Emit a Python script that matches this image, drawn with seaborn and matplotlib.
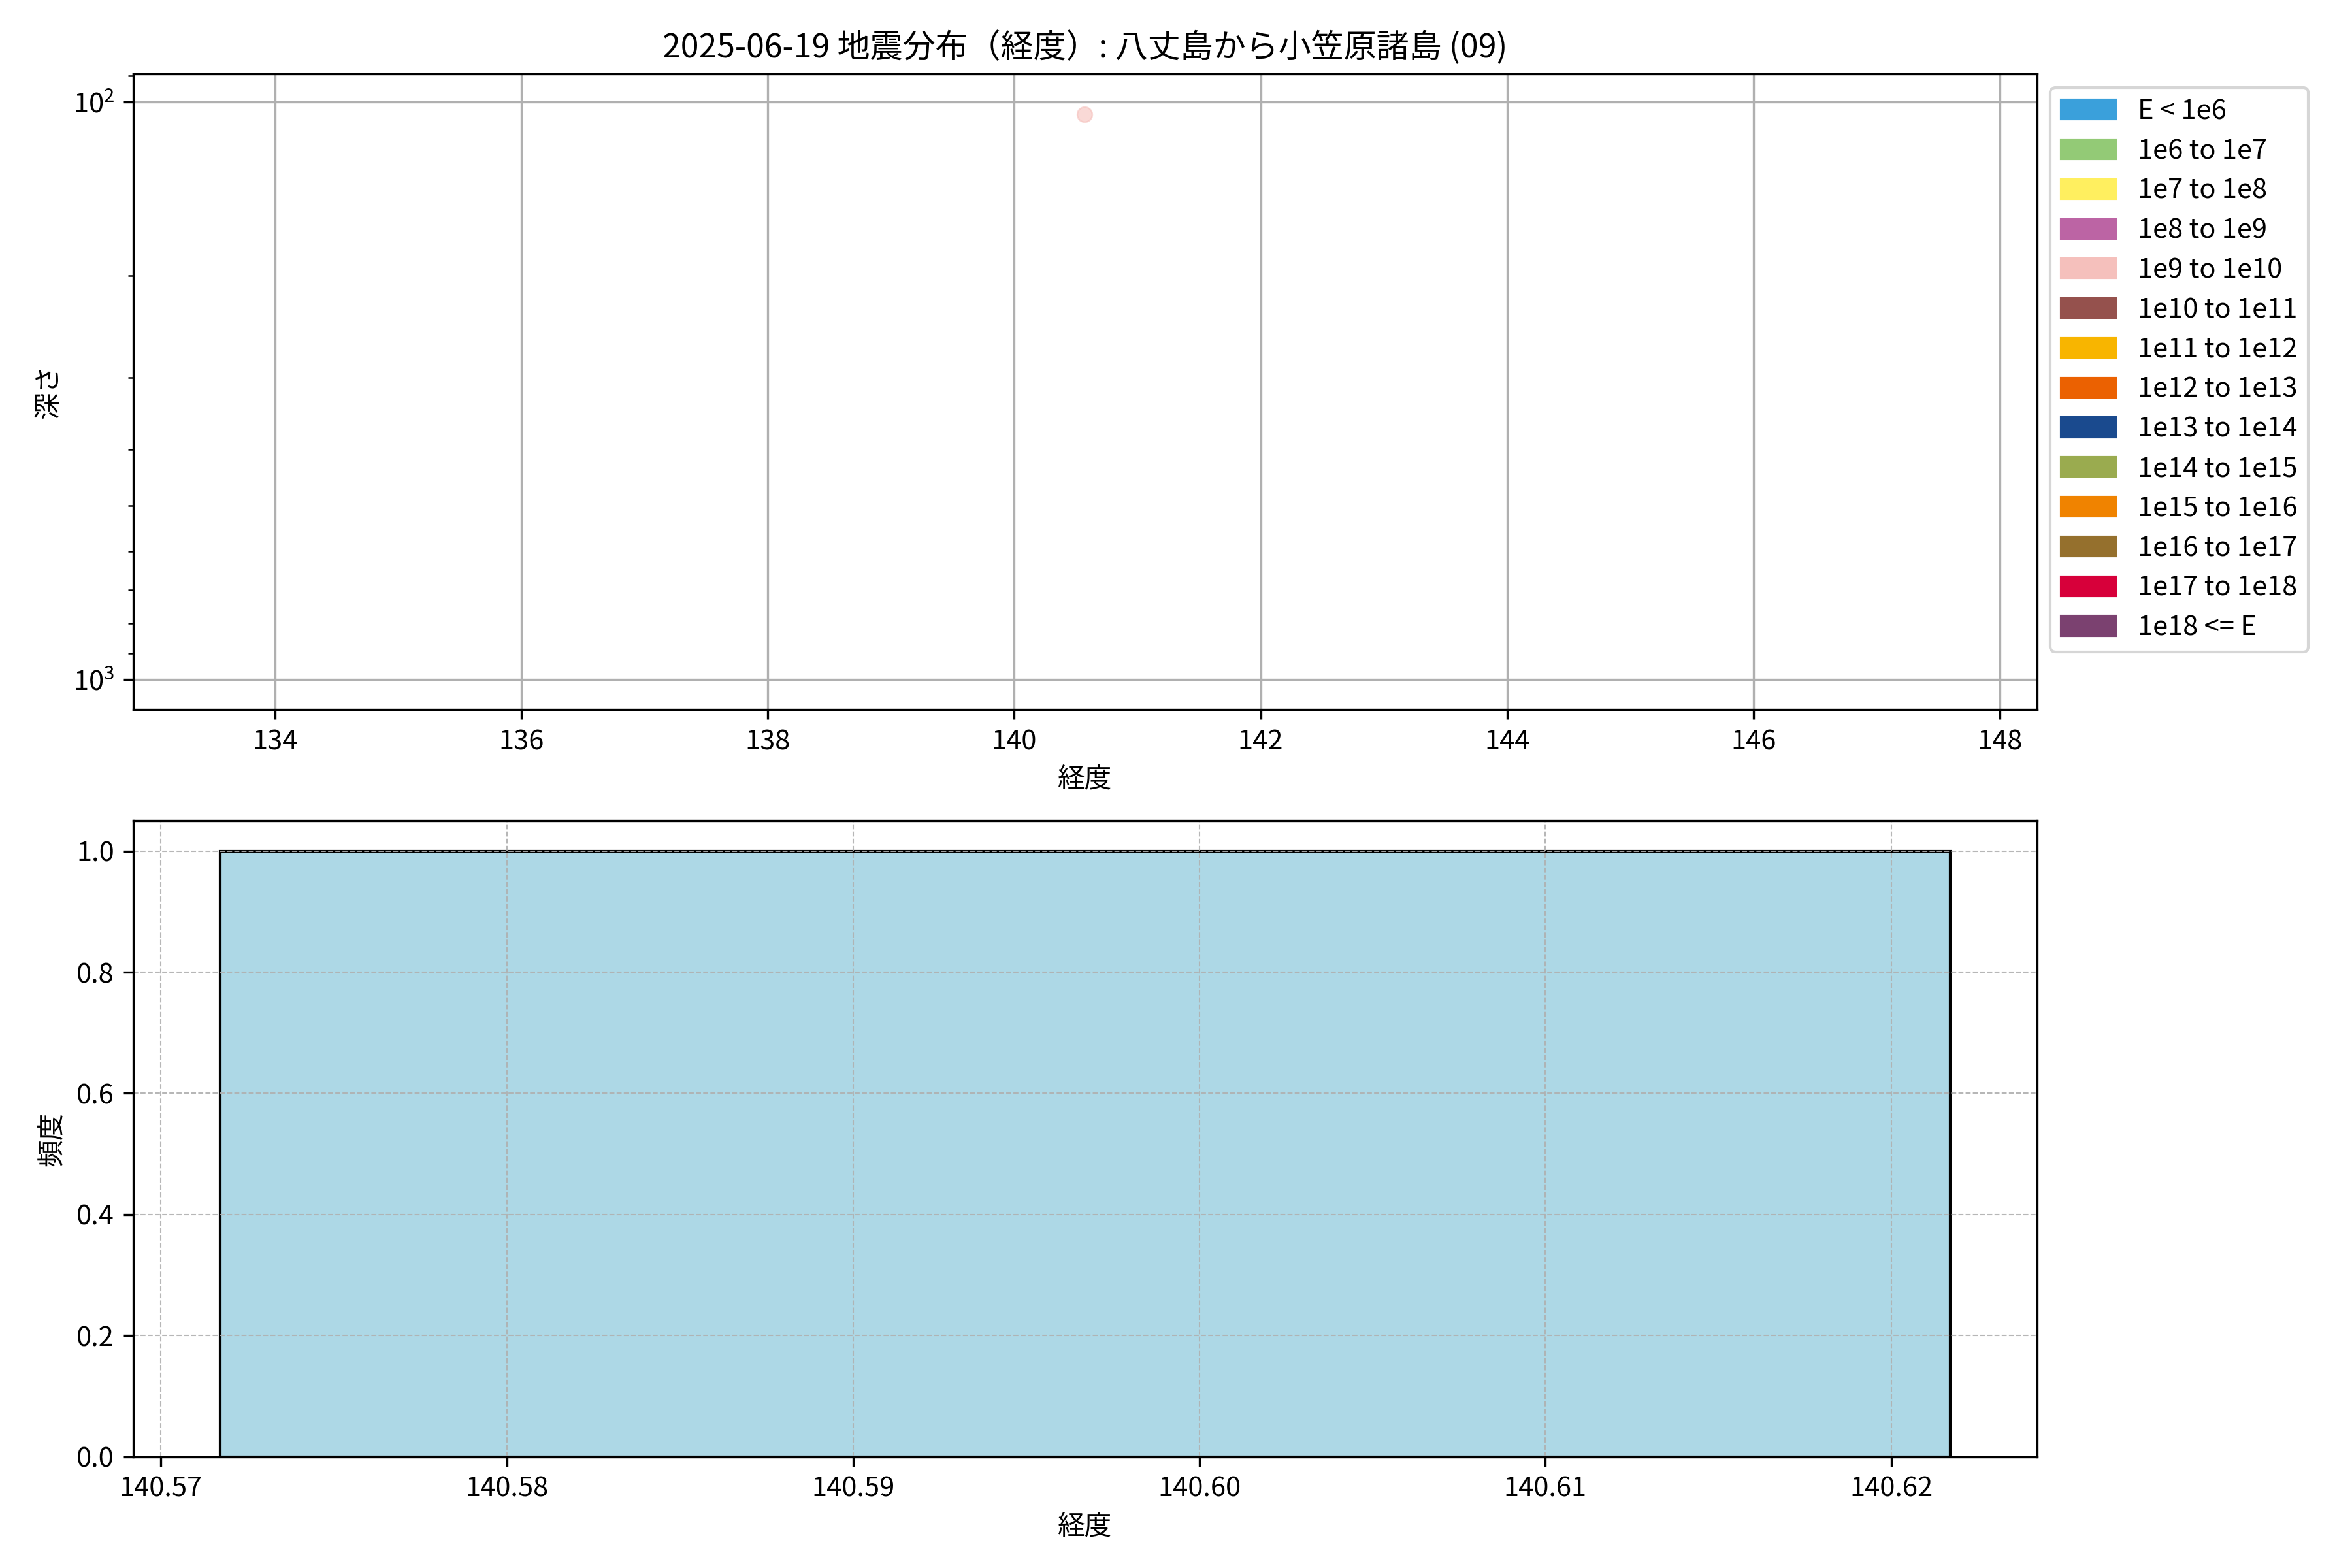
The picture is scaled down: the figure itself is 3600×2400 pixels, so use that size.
import matplotlib
matplotlib.use("Agg")
import matplotlib.pyplot as plt
import matplotlib.patches as mpatches
import seaborn as sns
import pandas as pd

plt.rcParams['font.family'] = ['Noto Sans CJK JP', 'DejaVu Sans']

# ---- data ----
title = "2025-06-19 地震分布（経度）: 八丈島から小笠原諸島 (09)"
longitudes = [140.5717]
depths = [105.0]
energy_class = ["1e9 to 1e10"]

energy_labels = ["E < 1e6", "1e6 to 1e7", "1e7 to 1e8", "1e8 to 1e9", "1e9 to 1e10",
                 "1e10 to 1e11", "1e11 to 1e12", "1e12 to 1e13", "1e13 to 1e14",
                 "1e14 to 1e15", "1e15 to 1e16", "1e16 to 1e17", "1e17 to 1e18", "1e18 <= E"]
energy_colors = ["#3aa0db", "#93ca76", "#ffef5f", "#bc64a4", "#f5c0bc", "#95514d",
                 "#f8b500", "#eb6101", "#1a4a8e", "#9aab4f", "#f08300", "#95702d",
                 "#d7003a", "#7b4170"]
bin_width = 0.05

df = pd.DataFrame({"経度": longitudes, "深さ": depths, "class": energy_class})
palette = dict(zip(energy_labels, energy_colors))

fig, (ax1, ax2) = plt.subplots(2, 1, figsize=(12, 8), dpi=300)
fig.subplots_adjust(left=0.0567, right=0.866, top=0.953, bottom=0.071, hspace=0.175)

# top scatter
sns.scatterplot(data=df, x="経度", y="深さ", hue="class", palette=palette,
                s=30, alpha=0.6, edgecolor=None, linewidth=0.6, ax=ax1, legend=False)
ax1.set_yscale("log")
ax1.set_xlim(132.85, 148.3)
ax1.set_ylim(1127, 89.3)
ax1.grid(True, color="#b0b0b0", linewidth=0.8)
ax1.set_xlabel("経度")
ax1.set_ylabel("深さ")
ax1.set_title(title, fontsize=12)

handles = [mpatches.Patch(color=c, label=l) for l, c in zip(energy_labels, energy_colors)]
ax1.legend(handles=handles, loc="upper left", bbox_to_anchor=(1.0, 1.0), fontsize=10,
           labelspacing=0.475)

# bottom histogram
lo = min(longitudes)
hi = max(longitudes) + bin_width
sns.histplot(x=longitudes, bins=1, binrange=(lo, hi), color="lightblue", edgecolor="black",
             linewidth=1.0, alpha=1.0, ax=ax2)
ax2.grid(True, linestyle="--", linewidth=0.5, alpha=0.9)
ax2.set_xlabel("経度")
ax2.set_ylabel("頻度")
ax2.ticklabel_format(axis="x", useOffset=False)

fig.savefig("out.png", dpi=300)
